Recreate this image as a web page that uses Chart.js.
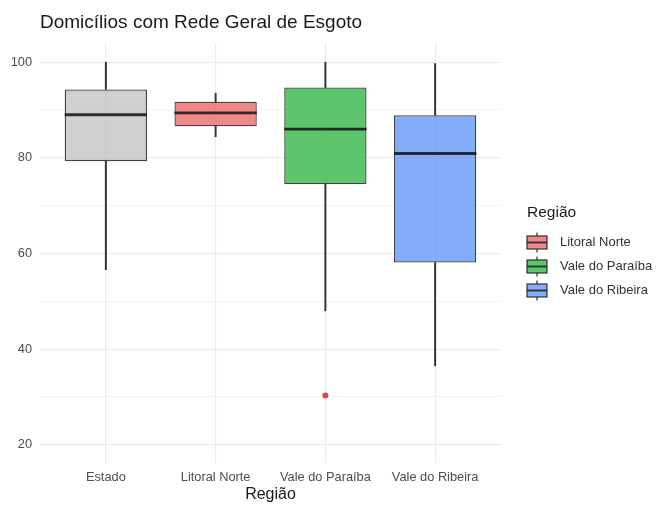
<!DOCTYPE html>
<html>
<head>
<meta charset="utf-8">
<script src="https://cdn.jsdelivr.net/npm/chart.js@4.4.1/dist/chart.umd.min.js"></script>
<style>
  html, body { margin: 0; padding: 0; background: #fff; }
  #wrap { width: 656px; height: 506px; }
</style>
</head>
<body>
<div id="wrap"><canvas id="chart-box"></canvas></div>
<script>
/* Boxplot - Domicílios com Rede Geral de Esgoto */
var categories = ['Estado', 'Litoral Norte', 'Vale do Paraíba', 'Vale do Ribeira'];
var whiskerLow = [56.6, 84.4, 48.0, 36.5];
var q1 = [79.3, 86.6, 74.5, 58.1];
var median = [89.0, 89.4, 86.0, 80.9];
var q3 = [94.3, 91.7, 94.7, 88.9];
var whiskerHigh = [100, 93.5, 100, 99.7];
var outliers = [null, null, 30.3, null];
var yTicks = [20, 30, 40, 50, 60, 70, 80, 90, 100];
var yLabels = [20, 40, 60, 80, 100];
var legendRegions = ['Litoral Norte', 'Vale do Paraíba', 'Vale do Ribeira'];

var fills = ['rgba(190,190,190,0.72)', 'rgba(238,95,95,0.75)', 'rgba(30,175,50,0.72)', 'rgba(90,145,250,0.75)'];
var edge = 'rgba(35,35,35,0.85)';
var font = "'Liberation Sans', Arial, sans-serif";

function pts(arr) {
    return arr.map(function (v, i) { return { x: i, y: v }; });
}
function ranges(lo, hi) {
    return lo.map(function (v, i) { return { x: i, y: [v, hi[i]] }; });
}

var titlePlugin = {
    id: 'leftTitle',
    afterDraw: function (chart) {
        var ctx = chart.ctx;
        ctx.save();
        ctx.font = '19px ' + font;
        ctx.fillStyle = '#1a1a1a';
        ctx.textBaseline = 'middle';
        ctx.fillText('Domicílios com Rede Geral de Esgoto', chart.chartArea.left, 23);
        ctx.restore();
    }
};

var legendPlugin = {
    id: 'boxLegend',
    afterDraw: function (chart) {
        var ctx = chart.ctx;
        var x0 = chart.chartArea.right + 26;
        ctx.save();
        ctx.textBaseline = 'middle';
        ctx.fillStyle = '#1a1a1a';
        ctx.font = '15.5px ' + font;
        ctx.fillText('Região', x0, 213);
        ctx.font = '13px ' + font;
        legendRegions.forEach(function (r, k) {
            var i = categories.indexOf(r);
            var cy = 242.5 + k * 24;
            ctx.strokeStyle = edge;
            ctx.lineWidth = 1.3;
            ctx.beginPath(); ctx.moveTo(x0 + 10, cy - 10); ctx.lineTo(x0 + 10, cy + 10); ctx.stroke();
            ctx.fillStyle = '#fff';
            ctx.fillRect(x0, cy - 6.5, 20, 13);
            ctx.fillStyle = fills[i];
            ctx.fillRect(x0, cy - 6.5, 20, 13);
            ctx.strokeRect(x0, cy - 6.5, 20, 13);
            ctx.lineWidth = 2;
            ctx.beginPath(); ctx.moveTo(x0, cy); ctx.lineTo(x0 + 20, cy); ctx.stroke();
            ctx.fillStyle = '#333';
            ctx.fillText(r, x0 + 33, cy);
        });
        ctx.restore();
    }
};

var boxCanvas = document.getElementById('chart-box').getContext('2d');
var boxChart = new Chart(boxCanvas, {
    type: 'bar',
    data: {
        datasets: [{
            label: 'whisker-low',
            data: ranges(whiskerLow, q1),
            backgroundColor: '#333',
            borderWidth: 0,
            barThickness: 1.3,
            grouped: false,
            order: 4
        }, {
            label: 'whisker-high',
            data: ranges(q3, whiskerHigh),
            backgroundColor: '#333',
            borderWidth: 0,
            barThickness: 1.3,
            grouped: false,
            order: 4
        }, {
            label: 'box',
            data: ranges(q1, q3),
            backgroundColor: fills,
            borderColor: edge,
            borderWidth: 1.3,
            borderSkipped: false,
            barPercentage: 0.75,
            categoryPercentage: 1,
            grouped: false,
            order: 3
        }, {
            type: 'line',
            label: 'median',
            data: pts(median),
            showLine: false,
            pointStyle: 'line',
            pointRadius: function (c) {
                var s = c.chart.scales.x;
                return s ? (s.getPixelForValue(0.375) - s.getPixelForValue(0)) : 41;
            },
            pointBorderWidth: 2.8,
            pointBorderColor: 'rgba(25,25,25,0.88)',
            order: 2
        }, {
            type: 'line',
            label: 'outlier',
            data: pts(outliers),
            showLine: false,
            pointStyle: 'circle',
            pointRadius: 3,
            pointBorderWidth: 0,
            pointBackgroundColor: '#d9494a',
            order: 1
        }]
    },
    options: {
        responsive: true,
        maintainAspectRatio: false,
        animation: false,
        layout: {
            autoPadding: false,
            padding: { left: 0, right: 155, top: 43, bottom: 2 }
        },
        scales: {
            x: {
                type: 'linear',
                offset: false,
                min: -0.6,
                max: 3.6,
                afterBuildTicks: function (scale) {
                    scale.ticks = categories.map(function (c, i) { return { value: i }; });
                },
                afterFit: function (scale) { scale.height = 41; },
                grid: { color: '#ebebeb', lineWidth: 1.1, drawTicks: false, offset: false },
                border: { display: false },
                ticks: {
                    color: '#4d4d4d',
                    font: { family: font, size: 12.8 },
                    padding: 7,
                    maxRotation: 0,
                    autoSkip: false,
                    callback: function (v) { return categories[v]; }
                },
                title: { display: true, text: 'Região', color: '#1a1a1a', font: { family: font, size: 16 }, padding: { top: 0, bottom: 0 } }
            },
            y: {
                min: 16.2,
                max: 104,
                afterBuildTicks: function (scale) {
                    scale.ticks = yTicks.map(function (v) { return { value: v }; });
                },
                afterFit: function (scale) { scale.width = 40; },
                grid: {
                    color: '#ebebeb',
                    drawTicks: false,
                    lineWidth: function (ctx) {
                        return ctx.tick && yLabels.indexOf(ctx.tick.value) >= 0 ? 1.1 : 0.6;
                    }
                },
                border: { display: false },
                ticks: {
                    color: '#4d4d4d',
                    font: { family: font, size: 12.8 },
                    padding: 8,
                    callback: function (v) { return yLabels.indexOf(v) >= 0 ? v : ''; }
                }
            }
        },
        plugins: {
            tooltip: { enabled: false },
            legend: { display: false }
        }
    },
    plugins: [titlePlugin, legendPlugin]
});
</script>
</body>
</html>
